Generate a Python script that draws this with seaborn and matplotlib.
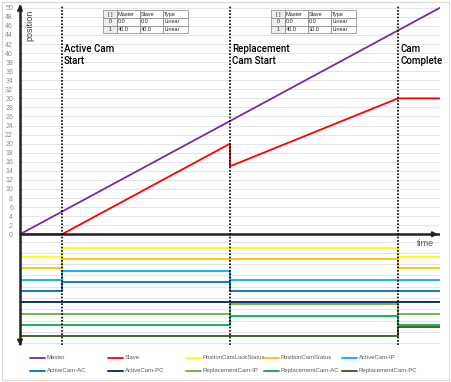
import matplotlib
matplotlib.use("Agg")
import matplotlib.pyplot as plt
import seaborn as sns
import numpy as np
import pandas as pd

# --- data ---
master_t = [0, 50]
master_pos = [0, 50]
slave_t = [0, 5, 25, 25, 45, 50]
slave_pos = [0, 0, 20, 15, 30, 30]

event_t = [5, 25, 45]
event_labels = ["Active Cam\nStart", "Replacement\nCam Start", "Cam\nComplete"]

# signal levels per segment [0-5, 5-25, 25-45, 45-50]
seg_t = [0, 5, 25, 45, 50]
sig_names = ["PositonCamLockStatus", "PositionCamStatus", "ActiveCam-IP", "ActiveCam-AC",
             "ActiveCam-PC", "ReplacementCam-IP", "ReplacementCam-AC", "ReplacementCam-PC"]
sig_levels = [
    [-5, -3, -3, -5],
    [-7.5, -5.5, -5.5, -7.5],
    [-10, -8, -10, -10],
    [-12.5, -10.5, -12.5, -12.5],
    [-15, -15, -15, -15],
    [-17.5, -17.5, -15.5, -17.5],
    [-20, -20, -18, -20],
    [-22.5, -22.5, -22.5, -20.5],
]
sig_colors = ["#FFFF00", "#FFC000", "#00B0F0", "#0070C0", "#002060", "#70AD47", "#00B050", "#375623"]

cam_header = ["[ ]", "Master", "Slave", "Type"]
cam_table_1 = [["0", "0.0", "0.0", "Linear"], ["1", "40.0", "40.0", "Linear"]]
cam_table_2 = [["0", "0.0", "0.0", "Linear"], ["1", "40.0", "30.0", "Linear"]]

sns.set_style("white")
plt.rcParams['font.family'] = ['Liberation Sans', 'DejaVu Sans']

W, H = 451, 382
fig = plt.figure(figsize=(W / 100, H / 100), dpi=100)
ax = fig.add_axes([20 / W, 36.75 / H, 420 / W, 339.75 / H])
ax.set_xlim(0, 50)
ax.set_ylim(-24.5, 50.5)

# gridlines
for g in range(0, 51, 2):
    ax.axhline(g, color="#e4e4e4", lw=0.7, zorder=0)
for g in np.arange(-1.6, -24.5, -2.5):
    ax.axhline(g, color="#e4e4e4", lw=0.7, zorder=0)

sns.lineplot(x=master_t, y=master_pos, ax=ax, color="#7030A0", lw=1.3, estimator=None, sort=False)
sns.lineplot(x=slave_t, y=slave_pos, ax=ax, color="#FF0000", lw=1.3, estimator=None, sort=False)
for name, lv, c in zip(sig_names, sig_levels, sig_colors):
    sns.lineplot(x=seg_t, y=lv + [lv[-1]], ax=ax, color=c, lw=1.3, drawstyle="steps-post",
                 estimator=None, sort=False)

# event markers
for t, lab in zip(event_t, event_labels):
    ax.axvline(t, color="black", ls=(0, (1, 1)), lw=1.2, zorder=5)
    ax.text(t + 0.25, 42, lab, fontsize=7, va="top", ha="left", color="black",
            family=["Roboto", "DejaVu Sans"], fontweight="medium", linespacing=1.3)

# axes arrows
ax.axhline(0, color="#222222", lw=1.8, zorder=4)
ax.annotate("", xy=(50.1, 0), xytext=(49, 0),
            arrowprops=dict(arrowstyle="-|>", color="#222222", lw=1.2, mutation_scale=8), annotation_clip=False)
ax.plot([0, 0], [-24.3, 50.3], color="#222222", lw=1.8, zorder=6, clip_on=False)
ax.annotate("", xy=(0, 51.3), xytext=(0, 49.5),
            arrowprops=dict(arrowstyle="-|>", color="#222222", lw=1.2, mutation_scale=8), annotation_clip=False)
ax.annotate("", xy=(0, -25.2), xytext=(0, -23.5),
            arrowprops=dict(arrowstyle="-|>", color="#222222", lw=1.2, mutation_scale=8), annotation_clip=False)

ax.text(49.3, -1.0, "time", fontsize=6.5, color="#595959", ha="right", va="top")
ax.text(0.6, 49.5, "position", fontsize=6.5, color="#404040", rotation=90, ha="left", va="top")

ax.set_yticks(range(0, 51, 2))
ax.set_yticklabels([str(v) for v in range(0, 51, 2)], fontsize=5, color="#8c8c8c")
ax.tick_params(axis="y", length=0, pad=5)
ax.set_xticks([])
for s in ax.spines.values():
    s.set_visible(False)

# cam tables
for tbl_rows, x0 in [(cam_table_1, 0.198), (cam_table_2, 0.598)]:
    tb = ax.table(cellText=[cam_header] + tbl_rows, bbox=[x0, 0.918, 0.203, 0.068],
                  colWidths=[0.16, 0.27, 0.27, 0.30], cellLoc="left")
    tb.auto_set_font_size(False)
    tb.set_fontsize(4)
    for (r, c), cell in tb.get_celld().items():
        cell.set_edgecolor("#7f7f7f")
        cell.set_linewidth(0.5)
        cell.PAD = 0.05
        if c == 0:
            cell.get_text().set_ha("center")
            cell.set_facecolor("#eeeeee")
    tb.set_zorder(7)

# legend, laid out on a fixed grid like the original
labels = ["Master", "Slave"] + sig_names
colors = ["#7030A0", "#FF0000"] + sig_colors
for i, (lab, c) in enumerate(zip(labels, colors)):
    x = 30 + 78 * (i % 5)
    y = 357.5 + 13 * (i // 5)
    fig.add_artist(plt.Line2D([x / W, (x + 15) / W], [1 - y / H, 1 - y / H], color=c, lw=1.3))
    fig.text((x + 16.5) / W, 1 - y / H, lab, fontsize=4.3, color="#595959", va="center", ha="left")

# outer border
fig.patches.append(plt.Rectangle((0.004, 0.005), 0.992, 0.99, transform=fig.transFigure,
                                 fill=False, edgecolor="#d9d9d9", lw=0.8))

fig.savefig("out.png", dpi=100)
